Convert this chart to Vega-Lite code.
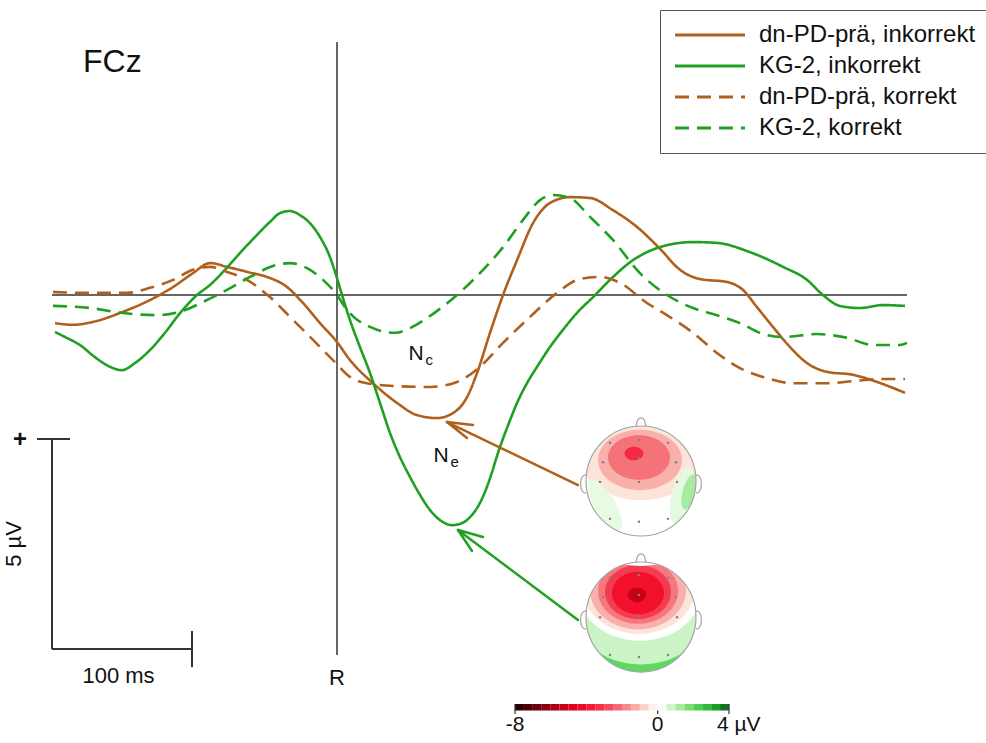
{
  "$schema": "https://vega.github.io/schema/vega-lite/v6.json",
  "width": 986,
  "height": 743,
  "padding": 0,
  "autosize": {"type": "none"},
  "background": "white",
  "config": {"view": {"stroke": null}, "font": "Liberation Sans", "text": {"font": "Liberation Sans", "color": "#111111"}},
  "resolve": {"scale": {"x": "independent"}},
  "layer": [
    {
      "encoding": {
        "x": {"field": "t", "type": "quantitative", "scale": {"domain": [-240.714, 463.571], "nice": false, "zero": false}, "axis": null},
        "y": {"field": "u", "type": "quantitative", "scale": {"domain": [-10.6667, 7.0238], "nice": false, "zero": false}, "axis": null}
      },
      "layer": [
        {
          "data": {"values": [
            {"t": -203.57, "t2": 407.14, "u": 0, "u2": 0},
            {"t": 0, "t2": 0, "u": 6.024, "u2": -8.571}
          ]},
          "mark": {"type": "rule", "color": "#333333", "strokeWidth": 1.5},
          "encoding": {"x2": {"field": "t2"}, "y2": {"field": "u2"}}
        },
        {
          "data": {"values": [
            {"t": -203.57, "t2": -203.57, "u": -3.43, "u2": -8.43},
            {"t": -203.57, "t2": -103.57, "u": -8.43, "u2": -8.43},
            {"t": -103.57, "t2": -103.57, "u": -8.0, "u2": -8.86},
            {"t": -214.29, "t2": -190.71, "u": -3.43, "u2": -3.43}
          ]},
          "mark": {"type": "rule", "color": "#333333", "strokeWidth": 2},
          "encoding": {"x2": {"field": "t2"}, "y2": {"field": "u2"}}
        },
        {
          "data": {"values": [
            {"series": "dn-PD-prä, inkorrekt", "t": -201.4, "u": -0.67},
            {"series": "dn-PD-prä, inkorrekt", "t": -188.6, "u": -0.71},
            {"series": "dn-PD-prä, inkorrekt", "t": -174.3, "u": -0.64},
            {"series": "dn-PD-prä, inkorrekt", "t": -152.9, "u": -0.40},
            {"series": "dn-PD-prä, inkorrekt", "t": -133.6, "u": -0.12},
            {"series": "dn-PD-prä, inkorrekt", "t": -117.1, "u": 0.19},
            {"series": "dn-PD-prä, inkorrekt", "t": -102.9, "u": 0.52},
            {"series": "dn-PD-prä, inkorrekt", "t": -90.7, "u": 0.76},
            {"series": "dn-PD-prä, inkorrekt", "t": -78.6, "u": 0.67},
            {"series": "dn-PD-prä, inkorrekt", "t": -64.3, "u": 0.55},
            {"series": "dn-PD-prä, inkorrekt", "t": -50.0, "u": 0.43},
            {"series": "dn-PD-prä, inkorrekt", "t": -35.7, "u": 0.19},
            {"series": "dn-PD-prä, inkorrekt", "t": -24.3, "u": -0.19},
            {"series": "dn-PD-prä, inkorrekt", "t": -12.1, "u": -0.67},
            {"series": "dn-PD-prä, inkorrekt", "t": 0, "u": -1.12},
            {"series": "dn-PD-prä, inkorrekt", "t": 9.3, "u": -1.55},
            {"series": "dn-PD-prä, inkorrekt", "t": 25.7, "u": -2.10},
            {"series": "dn-PD-prä, inkorrekt", "t": 42.9, "u": -2.57},
            {"series": "dn-PD-prä, inkorrekt", "t": 57.1, "u": -2.86},
            {"series": "dn-PD-prä, inkorrekt", "t": 71.4, "u": -2.93},
            {"series": "dn-PD-prä, inkorrekt", "t": 82.9, "u": -2.81},
            {"series": "dn-PD-prä, inkorrekt", "t": 92.9, "u": -2.43},
            {"series": "dn-PD-prä, inkorrekt", "t": 100.0, "u": -1.86},
            {"series": "dn-PD-prä, inkorrekt", "t": 109.3, "u": -0.90},
            {"series": "dn-PD-prä, inkorrekt", "t": 118.6, "u": 0},
            {"series": "dn-PD-prä, inkorrekt", "t": 128.6, "u": 0.83},
            {"series": "dn-PD-prä, inkorrekt", "t": 140.0, "u": 1.71},
            {"series": "dn-PD-prä, inkorrekt", "t": 152.1, "u": 2.19},
            {"series": "dn-PD-prä, inkorrekt", "t": 166.4, "u": 2.33},
            {"series": "dn-PD-prä, inkorrekt", "t": 180.7, "u": 2.31},
            {"series": "dn-PD-prä, inkorrekt", "t": 197.1, "u": 2.02},
            {"series": "dn-PD-prä, inkorrekt", "t": 214.3, "u": 1.62},
            {"series": "dn-PD-prä, inkorrekt", "t": 230.7, "u": 1.10},
            {"series": "dn-PD-prä, inkorrekt", "t": 245.0, "u": 0.60},
            {"series": "dn-PD-prä, inkorrekt", "t": 259.3, "u": 0.38},
            {"series": "dn-PD-prä, inkorrekt", "t": 278.6, "u": 0.31},
            {"series": "dn-PD-prä, inkorrekt", "t": 290.0, "u": 0.12},
            {"series": "dn-PD-prä, inkorrekt", "t": 300.0, "u": -0.29},
            {"series": "dn-PD-prä, inkorrekt", "t": 311.4, "u": -0.76},
            {"series": "dn-PD-prä, inkorrekt", "t": 323.6, "u": -1.24},
            {"series": "dn-PD-prä, inkorrekt", "t": 335.7, "u": -1.62},
            {"series": "dn-PD-prä, inkorrekt", "t": 350.0, "u": -1.83},
            {"series": "dn-PD-prä, inkorrekt", "t": 368.6, "u": -1.90},
            {"series": "dn-PD-prä, inkorrekt", "t": 385.7, "u": -2.07},
            {"series": "dn-PD-prä, inkorrekt", "t": 405.7, "u": -2.33},

            {"series": "KG-2, inkorrekt", "t": -201.4, "u": -0.88},
            {"series": "KG-2, inkorrekt", "t": -194.3, "u": -1.00},
            {"series": "KG-2, inkorrekt", "t": -183.6, "u": -1.19},
            {"series": "KG-2, inkorrekt", "t": -172.9, "u": -1.48},
            {"series": "KG-2, inkorrekt", "t": -162.1, "u": -1.71},
            {"series": "KG-2, inkorrekt", "t": -153.6, "u": -1.79},
            {"series": "KG-2, inkorrekt", "t": -144.3, "u": -1.62},
            {"series": "KG-2, inkorrekt", "t": -133.6, "u": -1.31},
            {"series": "KG-2, inkorrekt", "t": -122.9, "u": -0.90},
            {"series": "KG-2, inkorrekt", "t": -112.1, "u": -0.43},
            {"series": "KG-2, inkorrekt", "t": -100.0, "u": 0},
            {"series": "KG-2, inkorrekt", "t": -90.7, "u": 0.24},
            {"series": "KG-2, inkorrekt", "t": -80.0, "u": 0.60},
            {"series": "KG-2, inkorrekt", "t": -69.3, "u": 1.00},
            {"series": "KG-2, inkorrekt", "t": -58.6, "u": 1.38},
            {"series": "KG-2, inkorrekt", "t": -47.9, "u": 1.74},
            {"series": "KG-2, inkorrekt", "t": -40.7, "u": 1.95},
            {"series": "KG-2, inkorrekt", "t": -33.6, "u": 2.00},
            {"series": "KG-2, inkorrekt", "t": -26.4, "u": 1.90},
            {"series": "KG-2, inkorrekt", "t": -19.3, "u": 1.71},
            {"series": "KG-2, inkorrekt", "t": -12.1, "u": 1.38},
            {"series": "KG-2, inkorrekt", "t": -5.0, "u": 0.90},
            {"series": "KG-2, inkorrekt", "t": 0, "u": 0.40},
            {"series": "KG-2, inkorrekt", "t": 3.6, "u": 0},
            {"series": "KG-2, inkorrekt", "t": 9.3, "u": -0.60},
            {"series": "KG-2, inkorrekt", "t": 16.4, "u": -1.24},
            {"series": "KG-2, inkorrekt", "t": 23.6, "u": -1.86},
            {"series": "KG-2, inkorrekt", "t": 30.7, "u": -2.57},
            {"series": "KG-2, inkorrekt", "t": 37.9, "u": -3.29},
            {"series": "KG-2, inkorrekt", "t": 45.0, "u": -3.86},
            {"series": "KG-2, inkorrekt", "t": 52.1, "u": -4.33},
            {"series": "KG-2, inkorrekt", "t": 59.3, "u": -4.76},
            {"series": "KG-2, inkorrekt", "t": 66.4, "u": -5.12},
            {"series": "KG-2, inkorrekt", "t": 73.6, "u": -5.36},
            {"series": "KG-2, inkorrekt", "t": 82.1, "u": -5.48},
            {"series": "KG-2, inkorrekt", "t": 89.3, "u": -5.43},
            {"series": "KG-2, inkorrekt", "t": 95.0, "u": -5.29},
            {"series": "KG-2, inkorrekt", "t": 102.1, "u": -4.95},
            {"series": "KG-2, inkorrekt", "t": 107.1, "u": -4.57},
            {"series": "KG-2, inkorrekt", "t": 116.4, "u": -3.62},
            {"series": "KG-2, inkorrekt", "t": 123.6, "u": -2.98},
            {"series": "KG-2, inkorrekt", "t": 128.6, "u": -2.57},
            {"series": "KG-2, inkorrekt", "t": 135.7, "u": -2.10},
            {"series": "KG-2, inkorrekt", "t": 142.9, "u": -1.71},
            {"series": "KG-2, inkorrekt", "t": 152.1, "u": -1.24},
            {"series": "KG-2, inkorrekt", "t": 161.4, "u": -0.83},
            {"series": "KG-2, inkorrekt", "t": 172.1, "u": -0.40},
            {"series": "KG-2, inkorrekt", "t": 182.9, "u": -0.05},
            {"series": "KG-2, inkorrekt", "t": 195.0, "u": 0.36},
            {"series": "KG-2, inkorrekt", "t": 211.4, "u": 0.83},
            {"series": "KG-2, inkorrekt", "t": 230.7, "u": 1.14},
            {"series": "KG-2, inkorrekt", "t": 254.3, "u": 1.26},
            {"series": "KG-2, inkorrekt", "t": 271.4, "u": 1.24},
            {"series": "KG-2, inkorrekt", "t": 295.0, "u": 1.02},
            {"series": "KG-2, inkorrekt", "t": 318.6, "u": 0.67},
            {"series": "KG-2, inkorrekt", "t": 335.7, "u": 0.36},
            {"series": "KG-2, inkorrekt", "t": 347.1, "u": 0},
            {"series": "KG-2, inkorrekt", "t": 359.3, "u": -0.26},
            {"series": "KG-2, inkorrekt", "t": 373.6, "u": -0.31},
            {"series": "KG-2, inkorrekt", "t": 390.0, "u": -0.24},
            {"series": "KG-2, inkorrekt", "t": 405.7, "u": -0.26},

            {"series": "dn-PD-prä, korrekt", "t": -202.9, "u": 0.07},
            {"series": "dn-PD-prä, korrekt", "t": -176.4, "u": 0.05},
            {"series": "dn-PD-prä, korrekt", "t": -150.0, "u": 0.05},
            {"series": "dn-PD-prä, korrekt", "t": -133.6, "u": 0.17},
            {"series": "dn-PD-prä, korrekt", "t": -117.1, "u": 0.36},
            {"series": "dn-PD-prä, korrekt", "t": -102.9, "u": 0.60},
            {"series": "dn-PD-prä, korrekt", "t": -90.7, "u": 0.67},
            {"series": "dn-PD-prä, korrekt", "t": -78.6, "u": 0.55},
            {"series": "dn-PD-prä, korrekt", "t": -64.3, "u": 0.36},
            {"series": "dn-PD-prä, korrekt", "t": -47.9, "u": -0.05},
            {"series": "dn-PD-prä, korrekt", "t": -33.6, "u": -0.52},
            {"series": "dn-PD-prä, korrekt", "t": -17.1, "u": -1.07},
            {"series": "dn-PD-prä, korrekt", "t": -2.9, "u": -1.55},
            {"series": "dn-PD-prä, korrekt", "t": 9.3, "u": -1.95},
            {"series": "dn-PD-prä, korrekt", "t": 21.4, "u": -2.10},
            {"series": "dn-PD-prä, korrekt", "t": 42.9, "u": -2.17},
            {"series": "dn-PD-prä, korrekt", "t": 66.4, "u": -2.19},
            {"series": "dn-PD-prä, korrekt", "t": 85.7, "u": -2.07},
            {"series": "dn-PD-prä, korrekt", "t": 102.1, "u": -1.71},
            {"series": "dn-PD-prä, korrekt", "t": 118.6, "u": -1.14},
            {"series": "dn-PD-prä, korrekt", "t": 137.9, "u": -0.52},
            {"series": "dn-PD-prä, korrekt", "t": 157.1, "u": 0.05},
            {"series": "dn-PD-prä, korrekt", "t": 173.6, "u": 0.38},
            {"series": "dn-PD-prä, korrekt", "t": 187.9, "u": 0.43},
            {"series": "dn-PD-prä, korrekt", "t": 202.1, "u": 0.29},
            {"series": "dn-PD-prä, korrekt", "t": 221.4, "u": -0.19},
            {"series": "dn-PD-prä, korrekt", "t": 235.7, "u": -0.48},
            {"series": "dn-PD-prä, korrekt", "t": 254.3, "u": -0.90},
            {"series": "dn-PD-prä, korrekt", "t": 271.4, "u": -1.38},
            {"series": "dn-PD-prä, korrekt", "t": 287.9, "u": -1.74},
            {"series": "dn-PD-prä, korrekt", "t": 307.1, "u": -1.98},
            {"series": "dn-PD-prä, korrekt", "t": 325.7, "u": -2.10},
            {"series": "dn-PD-prä, korrekt", "t": 350.0, "u": -2.10},
            {"series": "dn-PD-prä, korrekt", "t": 368.6, "u": -2.05},
            {"series": "dn-PD-prä, korrekt", "t": 387.9, "u": -2.00},
            {"series": "dn-PD-prä, korrekt", "t": 405.7, "u": -2.00},

            {"series": "KG-2, korrekt", "t": -202.9, "u": -0.26},
            {"series": "KG-2, korrekt", "t": -176.4, "u": -0.31},
            {"series": "KG-2, korrekt", "t": -152.9, "u": -0.43},
            {"series": "KG-2, korrekt", "t": -128.6, "u": -0.48},
            {"series": "KG-2, korrekt", "t": -112.1, "u": -0.40},
            {"series": "KG-2, korrekt", "t": -92.9, "u": -0.12},
            {"series": "KG-2, korrekt", "t": -78.6, "u": 0.12},
            {"series": "KG-2, korrekt", "t": -62.1, "u": 0.43},
            {"series": "KG-2, korrekt", "t": -45.7, "u": 0.69},
            {"series": "KG-2, korrekt", "t": -33.6, "u": 0.76},
            {"series": "KG-2, korrekt", "t": -21.4, "u": 0.64},
            {"series": "KG-2, korrekt", "t": -10.0, "u": 0.36},
            {"series": "KG-2, korrekt", "t": 0, "u": 0},
            {"series": "KG-2, korrekt", "t": 5.7, "u": -0.29},
            {"series": "KG-2, korrekt", "t": 12.9, "u": -0.55},
            {"series": "KG-2, korrekt", "t": 23.6, "u": -0.76},
            {"series": "KG-2, korrekt", "t": 34.3, "u": -0.88},
            {"series": "KG-2, korrekt", "t": 41.4, "u": -0.90},
            {"series": "KG-2, korrekt", "t": 52.1, "u": -0.79},
            {"series": "KG-2, korrekt", "t": 66.4, "u": -0.50},
            {"series": "KG-2, korrekt", "t": 85.7, "u": 0},
            {"series": "KG-2, korrekt", "t": 102.1, "u": 0.52},
            {"series": "KG-2, korrekt", "t": 118.6, "u": 1.14},
            {"series": "KG-2, korrekt", "t": 132.9, "u": 1.79},
            {"series": "KG-2, korrekt", "t": 145.0, "u": 2.26},
            {"series": "KG-2, korrekt", "t": 154.3, "u": 2.38},
            {"series": "KG-2, korrekt", "t": 166.4, "u": 2.31},
            {"series": "KG-2, korrekt", "t": 180.7, "u": 1.86},
            {"series": "KG-2, korrekt", "t": 197.1, "u": 1.31},
            {"series": "KG-2, korrekt", "t": 216.4, "u": 0.52},
            {"series": "KG-2, korrekt", "t": 235.7, "u": 0},
            {"series": "KG-2, korrekt", "t": 254.3, "u": -0.31},
            {"series": "KG-2, korrekt", "t": 271.4, "u": -0.48},
            {"series": "KG-2, korrekt", "t": 287.9, "u": -0.67},
            {"series": "KG-2, korrekt", "t": 304.3, "u": -0.93},
            {"series": "KG-2, korrekt", "t": 318.6, "u": -1.00},
            {"series": "KG-2, korrekt", "t": 342.9, "u": -0.93},
            {"series": "KG-2, korrekt", "t": 364.3, "u": -1.02},
            {"series": "KG-2, korrekt", "t": 382.9, "u": -1.19},
            {"series": "KG-2, korrekt", "t": 402.1, "u": -1.19},
            {"series": "KG-2, korrekt", "t": 407.1, "u": -1.14}
          ]},
          "mark": {"type": "line", "strokeWidth": 2.6, "interpolate": "monotone"},
          "encoding": {
            "stroke": {"field": "series", "type": "nominal",
              "scale": {"domain": ["dn-PD-prä, inkorrekt", "KG-2, inkorrekt", "dn-PD-prä, korrekt", "KG-2, korrekt"], "range": ["#b0601c", "#20a020", "#b0601c", "#20a020"]},
              "legend": {"title": null, "orient": "none", "legendX": 660, "legendY": 10, "padding": 13, "strokeColor": "#555555", "fillColor": "#ffffff", "symbolType": "M-5,0H5", "symbolSize": 196, "symbolStrokeWidth": 3, "symbolOffset": 25, "labelOffset": 37, "labelFontSize": 24, "labelFont": "Liberation Sans", "labelColor": "#111111", "rowPadding": 7, "labelLimit": 400, "direction": "vertical"}},
            "strokeDash": {"field": "series", "type": "nominal",
              "scale": {"domain": ["dn-PD-prä, inkorrekt", "KG-2, inkorrekt", "dn-PD-prä, korrekt", "KG-2, korrekt"], "range": [[1, 0], [1, 0], [14, 8], [14, 8]]},
              "legend": {"title": null, "orient": "none", "legendX": 660, "legendY": 10, "padding": 13, "strokeColor": "#555555", "fillColor": "#ffffff", "symbolType": "M-5,0H5", "symbolSize": 196, "symbolStrokeWidth": 3, "symbolOffset": 25, "labelOffset": 37, "labelFontSize": 24, "labelFont": "Liberation Sans", "labelColor": "#111111", "rowPadding": 7, "labelLimit": 400, "direction": "vertical"}}
          }
        },
        {
          "data": {"values": [
            {"t": 217.14, "u": -3.819, "radius": 62, "value": -0.5},
            {"t": 216.43, "u": -3.929, "radius": 42, "value": -1.2},
            {"t": 215.71, "u": -3.869, "radius": 31, "value": -2.1},
            {"t": 212.14, "u": -3.774, "radius": 9.5, "value": -3.4}
          ]},
          "mark": {"type": "point", "filled": true, "opacity": 1, "strokeWidth": 0, "shape": "M-1,0A1,0.72 0 1,1 1,0A1,0.72 0 1,1 -1,0Z"},
          "encoding": {
            "size": {"field": "radius", "type": "quantitative", "scale": {"type": "pow", "exponent": 2, "domain": [0, 100], "range": [0, 40000]}, "legend": null},
            "fill": {"field": "value", "type": "quantitative", "scale": {"type": "linear", "domain": [-8, -7, -6, -5, -4, -3, -2, -1.2, -0.5, 0, 0.5, 1, 2, 3, 4], "range": ["#1a0000", "#5a0008", "#9a0010", "#d40018", "#f2102c", "#f43c50", "#f6787e", "#f9b0aa", "#fde4d8", "#ffffff", "#e4fae0", "#b8f0b0", "#60d860", "#20b030", "#0a6018"], "interpolate": "rgb"}, "legend": null}
          }
        },
        {
          "data": {"values": [
            {"t": 191.43, "u": -5.0, "radius": 29, "value": 0.45}
          ]},
          "mark": {"type": "point", "filled": true, "opacity": 1, "strokeWidth": 0, "angle": 59, "shape": "M-1,0A1,0.35 0 1,1 1,0A1,0.35 0 1,1 -1,0Z"},
          "encoding": {
            "size": {"field": "radius", "type": "quantitative", "scale": {"type": "pow", "exponent": 2, "domain": [0, 100], "range": [0, 40000]}, "legend": null},
            "fill": {"field": "value", "type": "quantitative", "scale": {"type": "linear", "domain": [-8, -7, -6, -5, -4, -3, -2, -1.2, -0.5, 0, 0.5, 1, 2, 3, 4], "range": ["#1a0000", "#5a0008", "#9a0010", "#d40018", "#f2102c", "#f43c50", "#f6787e", "#f9b0aa", "#fde4d8", "#ffffff", "#e4fae0", "#b8f0b0", "#60d860", "#20b030", "#0a6018"], "interpolate": "rgb"}, "legend": null}
          }
        },
        {
          "data": {"values": [
            {"t": 246.43, "u": -4.762, "radius": 29, "value": 0.5},
            {"t": 251.43, "u": -4.69, "radius": 18, "value": 1.2}
          ]},
          "mark": {"type": "point", "filled": true, "opacity": 1, "strokeWidth": 0, "angle": 105, "shape": "M-1,0A1,0.35 0 1,1 1,0A1,0.35 0 1,1 -1,0Z"},
          "encoding": {
            "size": {"field": "radius", "type": "quantitative", "scale": {"type": "pow", "exponent": 2, "domain": [0, 100], "range": [0, 40000]}, "legend": null},
            "fill": {"field": "value", "type": "quantitative", "scale": {"type": "linear", "domain": [-8, -7, -6, -5, -4, -3, -2, -1.2, -0.5, 0, 0.5, 1, 2, 3, 4], "range": ["#1a0000", "#5a0008", "#9a0010", "#d40018", "#f2102c", "#f43c50", "#f6787e", "#f9b0aa", "#fde4d8", "#ffffff", "#e4fae0", "#b8f0b0", "#60d860", "#20b030", "#0a6018"], "interpolate": "rgb"}, "legend": null}
          }
        },
        {
          "data": {"values": [
            {"t": 217.14, "u": -7.667, "radius": 80, "value": 2.0},
            {"t": 217.14, "u": -7.429, "radius": 70, "value": 0.8},
            {"t": 216.43, "u": -7.024, "radius": 62, "value": 0},
            {"t": 215.71, "u": -6.976, "radius": 56, "value": -0.5},
            {"t": 215.0, "u": -7.024, "radius": 48, "value": -1.2},
            {"t": 215.0, "u": -7.048, "radius": 40, "value": -2.0},
            {"t": 215.0, "u": -7.071, "radius": 33, "value": -3.0},
            {"t": 215.0, "u": -7.095, "radius": 26, "value": -4.0},
            {"t": 214.29, "u": -7.143, "radius": 9, "value": -5.2}
          ]},
          "mark": {"type": "point", "filled": true, "opacity": 1, "strokeWidth": 0, "shape": "M-1,0A1,0.82 0 1,1 1,0A1,0.82 0 1,1 -1,0Z"},
          "encoding": {
            "size": {"field": "radius", "type": "quantitative", "scale": {"type": "pow", "exponent": 2, "domain": [0, 100], "range": [0, 40000]}, "legend": null},
            "fill": {"field": "value", "type": "quantitative", "scale": {"type": "linear", "domain": [-8, -7, -6, -5, -4, -3, -2, -1.2, -0.5, 0, 0.5, 1, 2, 3, 4], "range": ["#1a0000", "#5a0008", "#9a0010", "#d40018", "#f2102c", "#f43c50", "#f6787e", "#f9b0aa", "#fde4d8", "#ffffff", "#e4fae0", "#b8f0b0", "#60d860", "#20b030", "#0a6018"], "interpolate": "rgb"}, "legend": null}
          }
        },
        {
          "data": {"values": [
            {"t": 217.14, "u": -4.4286, "radius": 70},
            {"t": 217.14, "u": -7.667, "radius": 70}
          ]},
          "mark": {"type": "point", "shape": "circle", "filled": false, "opacity": 1, "stroke": "#ffffff", "strokeWidth": 30},
          "encoding": {
            "size": {"field": "radius", "type": "quantitative", "scale": {"type": "pow", "exponent": 2, "domain": [0, 100], "range": [0, 40000]}, "legend": null}
          }
        },
        {
          "data": {"values": [
            {"t": 217.14, "u": -4.4286, "radius": 55},
            {"t": 217.14, "u": -7.667, "radius": 55}
          ]},
          "mark": {"type": "point", "shape": "circle", "filled": false, "opacity": 1, "stroke": "#a4a4a4", "strokeWidth": 1.2},
          "encoding": {
            "size": {"field": "radius", "type": "quantitative", "scale": {"type": "pow", "exponent": 2, "domain": [0, 100], "range": [0, 40000]}, "legend": null}
          }
        },
        {
          "data": {"values": [
            {"t": 217.14, "u": -3.012},
            {"t": 217.14, "u": -6.25}
          ]},
          "mark": {"type": "point", "filled": false, "opacity": 1, "stroke": "#a4a4a4", "strokeWidth": 1.2, "size": 100, "shape": "M-1,1C-0.7,-1.3 0.7,-1.3 1,1"}
        },
        {
          "data": {"values": [
            {"t": 177.86, "u": -4.5},
            {"t": 177.86, "u": -7.738}
          ]},
          "mark": {"type": "point", "filled": false, "opacity": 1, "stroke": "#a4a4a4", "strokeWidth": 1.2, "size": 324, "shape": "M0,-1C-0.8,-1.1 -0.8,1.1 0,1"}
        },
        {
          "data": {"values": [
            {"t": 256.43, "u": -4.5},
            {"t": 256.43, "u": -7.738}
          ]},
          "mark": {"type": "point", "filled": false, "opacity": 1, "stroke": "#a4a4a4", "strokeWidth": 1.2, "size": 324, "shape": "M0,-1C0.8,-1.1 0.8,1.1 0,1"}
        },
        {
          "data": {"values": [
            {"t": 195.0, "u": -3.52}, {"t": 215.7, "u": -3.45}, {"t": 236.4, "u": -3.52},
            {"t": 190.0, "u": -3.98}, {"t": 215.7, "u": -3.88}, {"t": 242.1, "u": -3.98},
            {"t": 187.9, "u": -4.45}, {"t": 215.7, "u": -4.45}, {"t": 242.9, "u": -4.45},
            {"t": 195.0, "u": -5.33}, {"t": 215.7, "u": -5.40}, {"t": 236.4, "u": -5.33},
            {"t": 195.0, "u": -6.74}, {"t": 215.7, "u": -6.67}, {"t": 236.4, "u": -6.74},
            {"t": 190.0, "u": -7.19}, {"t": 215.7, "u": -7.14}, {"t": 242.1, "u": -7.19},
            {"t": 187.9, "u": -7.67}, {"t": 215.7, "u": -7.64}, {"t": 242.9, "u": -7.67},
            {"t": 195.0, "u": -8.57}, {"t": 215.7, "u": -8.62}, {"t": 236.4, "u": -8.57}
          ]},
          "mark": {"type": "point", "shape": "circle", "filled": true, "opacity": 1, "color": "#808080", "size": 6}
        },
        {
          "data": {"values": [
            {"t": 172.14, "u": -4.524, "t2": 78.57, "u2": -3.024},
            {"t": 97.14, "u": -3.095, "t2": 78.57, "u2": -3.024},
            {"t": 92.86, "u": -3.405, "t2": 78.57, "u2": -3.024}
          ]},
          "mark": {"type": "rule", "color": "#b0601c", "strokeWidth": 2.5, "strokeCap": "round"},
          "encoding": {"x2": {"field": "t2"}, "y2": {"field": "u2"}}
        },
        {
          "data": {"values": [
            {"t": 172.14, "u": -7.738, "t2": 86.43, "u2": -5.595},
            {"t": 104.29, "u": -5.762, "t2": 86.43, "u2": -5.595},
            {"t": 96.43, "u": -6.095, "t2": 86.43, "u2": -5.595}
          ]},
          "mark": {"type": "rule", "color": "#20a020", "strokeWidth": 2.5, "strokeCap": "round"},
          "encoding": {"x2": {"field": "t2"}, "y2": {"field": "u2"}}
        },
        {
          "data": {"values": [{"t": -181.43, "u": 5.31, "label": "FCz"}]},
          "mark": {"type": "text", "fontSize": 32, "align": "left", "baseline": "alphabetic"},
          "encoding": {"text": {"field": "label"}}
        },
        {
          "data": {"values": [
            {"t": 0, "u": -9.286, "label": "R"},
            {"t": -156.07, "u": -9.238, "label": "100 ms"}
          ]},
          "mark": {"type": "text", "fontSize": 22, "align": "center", "baseline": "alphabetic"},
          "encoding": {"text": {"field": "label"}}
        },
        {
          "data": {"values": [{"t": -226.43, "u": -3.63, "label": "+"}]},
          "mark": {"type": "text", "fontSize": 24, "fontWeight": "bold", "align": "center", "baseline": "alphabetic"},
          "encoding": {"text": {"field": "label"}}
        },
        {
          "data": {"values": [{"t": -225.71, "u": -5.929, "label": "5 µV"}]},
          "mark": {"type": "text", "fontSize": 22, "angle": 270, "align": "center", "baseline": "alphabetic"},
          "encoding": {"text": {"field": "label"}}
        },
        {
          "data": {"values": [
            {"t": 51.07, "u": -1.548, "label": "N"},
            {"t": 68.93, "u": -3.976, "label": "N"}
          ]},
          "mark": {"type": "text", "fontSize": 21, "align": "left", "baseline": "alphabetic"},
          "encoding": {"text": {"field": "label"}}
        },
        {
          "data": {"values": [
            {"t": 63.21, "u": -1.667, "label": "c"},
            {"t": 81.07, "u": -4.095, "label": "e"}
          ]},
          "mark": {"type": "text", "fontSize": 15, "align": "left", "baseline": "alphabetic"},
          "encoding": {"text": {"field": "label"}}
        }
      ]
    },
    {
      "encoding": {
        "x": {"field": "v", "type": "quantitative", "scale": {"domain": [-36.879, 18.411], "nice": false, "zero": false}, "axis": null},
        "y": {"field": "u", "type": "quantitative", "scale": {"domain": [-10.6667, 7.0238], "nice": false, "zero": false}, "axis": null}
      },
      "layer": [
        {
          "data": {"values": [
            {"v": -8, "v2": -7.5, "u": -9.738, "u2": -9.893, "value": -7.75},
            {"v": -7.5, "v2": -7, "u": -9.738, "u2": -9.893, "value": -7.25},
            {"v": -7, "v2": -6.5, "u": -9.738, "u2": -9.893, "value": -6.75},
            {"v": -6.5, "v2": -6, "u": -9.738, "u2": -9.893, "value": -6.25},
            {"v": -6, "v2": -5.5, "u": -9.738, "u2": -9.893, "value": -5.75},
            {"v": -5.5, "v2": -5, "u": -9.738, "u2": -9.893, "value": -5.25},
            {"v": -5, "v2": -4.5, "u": -9.738, "u2": -9.893, "value": -4.75},
            {"v": -4.5, "v2": -4, "u": -9.738, "u2": -9.893, "value": -4.25},
            {"v": -4, "v2": -3.5, "u": -9.738, "u2": -9.893, "value": -3.75},
            {"v": -3.5, "v2": -3, "u": -9.738, "u2": -9.893, "value": -3.25},
            {"v": -3, "v2": -2.5, "u": -9.738, "u2": -9.893, "value": -2.75},
            {"v": -2.5, "v2": -2, "u": -9.738, "u2": -9.893, "value": -2.25},
            {"v": -2, "v2": -1.5, "u": -9.738, "u2": -9.893, "value": -1.75},
            {"v": -1.5, "v2": -1, "u": -9.738, "u2": -9.893, "value": -1.25},
            {"v": -1, "v2": -0.5, "u": -9.738, "u2": -9.893, "value": -0.75},
            {"v": -0.5, "v2": 0, "u": -9.738, "u2": -9.893, "value": -0.25},
            {"v": 0, "v2": 0.5, "u": -9.738, "u2": -9.893, "value": 0.1},
            {"v": 0.5, "v2": 1, "u": -9.738, "u2": -9.893, "value": 0.75},
            {"v": 1, "v2": 1.5, "u": -9.738, "u2": -9.893, "value": 1.25},
            {"v": 1.5, "v2": 2, "u": -9.738, "u2": -9.893, "value": 1.75},
            {"v": 2, "v2": 2.5, "u": -9.738, "u2": -9.893, "value": 2.25},
            {"v": 2.5, "v2": 3, "u": -9.738, "u2": -9.893, "value": 2.75},
            {"v": 3, "v2": 3.5, "u": -9.738, "u2": -9.893, "value": 3.25},
            {"v": 3.5, "v2": 4, "u": -9.738, "u2": -9.893, "value": 3.75}
          ]},
          "mark": {"type": "rect", "strokeWidth": 0},
          "encoding": {
            "x2": {"field": "v2"},
            "y2": {"field": "u2"},
            "fill": {"field": "value", "type": "quantitative", "scale": {"type": "linear", "domain": [-8, -7, -6, -5, -4, -3, -2, -1.2, -0.5, 0, 0.5, 1, 2, 3, 4], "range": ["#1a0000", "#5a0008", "#9a0010", "#d40018", "#f2102c", "#f43c50", "#f6787e", "#f9b0aa", "#fde4d8", "#ffffff", "#e4fae0", "#b8f0b0", "#60d860", "#20b030", "#0a6018"], "interpolate": "rgb"}, "legend": null}
          }
        },
        {
          "data": {"values": [
            {"v": -8, "u": -9.738, "u2": -9.976},
            {"v": 4, "u": -9.738, "u2": -9.976},
            {"v": 0, "u": -9.893, "u2": -9.976}
          ]},
          "mark": {"type": "rule", "color": "#333333", "strokeWidth": 1.2},
          "encoding": {"y2": {"field": "u2"}}
        },
        {
          "data": {"values": [
            {"v": -8, "u": -10.38, "label": "-8"},
            {"v": 0, "u": -10.38, "label": "0"}
          ]},
          "mark": {"type": "text", "fontSize": 21, "align": "center", "baseline": "alphabetic"},
          "encoding": {"text": {"field": "label"}}
        },
        {
          "data": {"values": [{"v": 4, "u": -10.38, "label": "4 µV"}]},
          "mark": {"type": "text", "fontSize": 21, "align": "left", "baseline": "alphabetic", "dx": -12},
          "encoding": {"text": {"field": "label"}}
        }
      ]
    }
  ]
}
